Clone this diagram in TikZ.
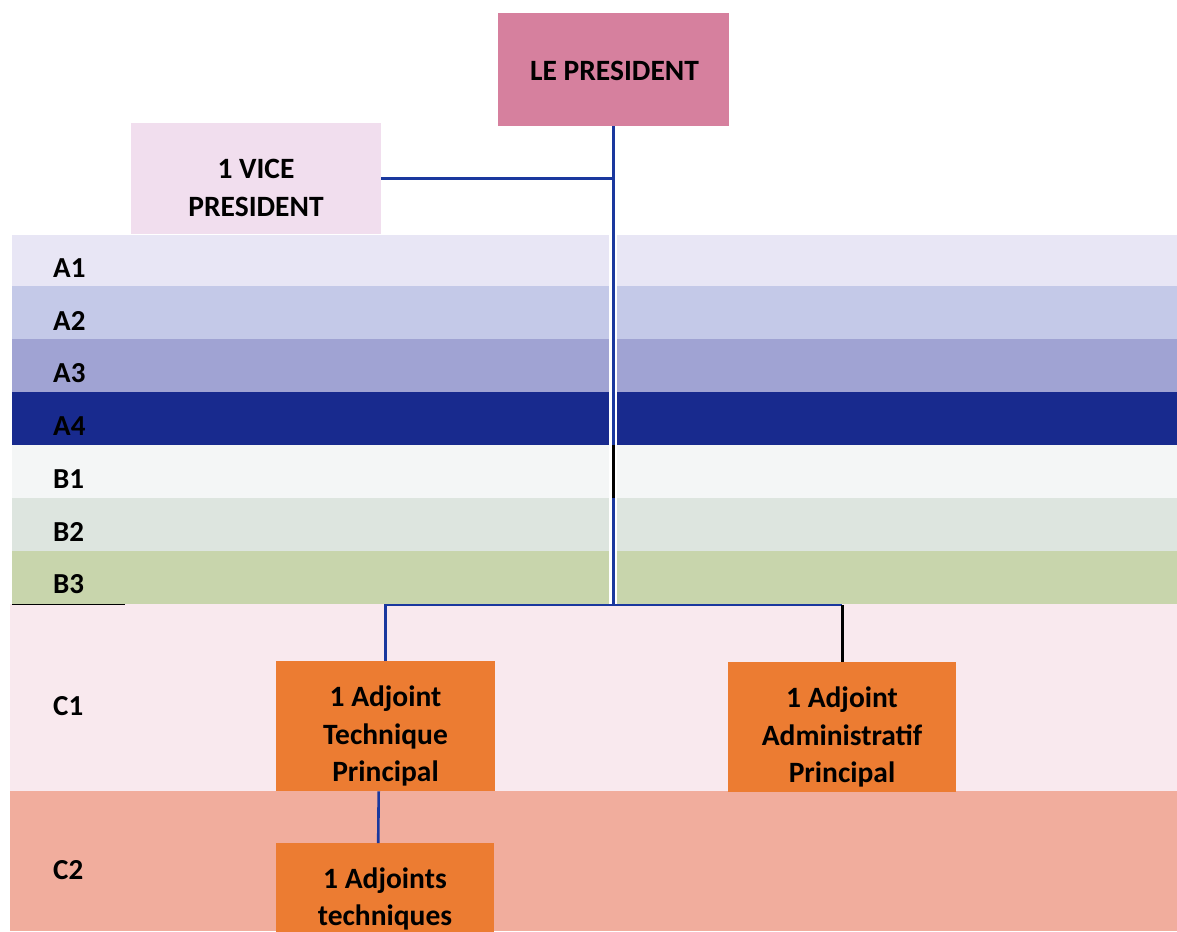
\documentclass[tikz,border=0pt]{standalone}
\usepackage{fontspec}
\setmainfont{Carlito}
\definecolor{presc}{RGB}{214,128,158}
\definecolor{vicec}{RGB}{241,222,238}
\definecolor{aone}{RGB}{232,230,245}
\definecolor{atwo}{RGB}{196,201,232}
\definecolor{athree}{RGB}{160,163,211}
\definecolor{afour}{RGB}{24,42,142}
\definecolor{bone}{RGB}{244,246,246}
\definecolor{btwo}{RGB}{221,229,223}
\definecolor{bthree}{RGB}{200,213,172}
\definecolor{cone}{RGB}{249,233,238}
\definecolor{ctwo}{RGB}{241,173,157}
\definecolor{orangebox}{RGB}{236,124,50}
\definecolor{linkblue}{RGB}{26,56,158}
\tikzset{
  box/.style={draw=none, inner sep=0pt, anchor=north west},
  txt/.style={align=center, inner sep=0pt, text=black, font=\fontsize{29.5}{37.5}\selectfont\bfseries},
  lvl/.style={anchor=west, inner sep=0pt, text=black, font=\fontsize{29}{30}\selectfont\bfseries},
  link/.style={draw=linkblue, line width=2.6pt},
  blink/.style={draw=black, line width=2.6pt}
}
\begin{document}
\begin{tikzpicture}[x=1pt,y=-1pt]
\useasboundingbox (0,0) rectangle (1177,931);
\clip (0,0) rectangle (1177,931);
\fill[white] (0,0) rectangle (1177,931);
% bands
\fill[aone]   (12,235) rectangle (1177,286);
\fill[atwo]   (12,286) rectangle (1177,339);
\fill[athree] (12,339) rectangle (1177,392);
\fill[afour]  (12,392) rectangle (1177,445);
\fill[bone]   (12,445) rectangle (1177,498);
\fill[btwo]   (12,498) rectangle (1177,551);
\fill[bthree] (12,551) rectangle (1177,604);
\fill[white]  (609,235) rectangle (617,604);
\fill[cone]   (10,604) rectangle (1177,791);
\fill[ctwo]   (10,791) rectangle (1177,931);
\draw[black, line width=1pt] (12,604.5) -- (125,604.5);
% level labels
\node[lvl] (lA1) at (53,268) {A1};
\node[lvl] (lA2) at (53,321) {A2};
\node[lvl] (lA3) at (53,373) {A3};
\node[lvl] (lA4) at (53,426) {A4};
\node[lvl] (lB1) at (53,479) {B1};
\node[lvl] (lB2) at (53,532) {B2};
\node[lvl] (lB3) at (53,584) {B3};
\node[lvl] (lC1) at (53,706) {C1};
\node[lvl] (lC2) at (53,870) {C2};
% boxes
\node[box, fill=presc, minimum width=231pt, minimum height=113pt] (P) at (497.5,13) {};
\node[box, fill=vicec, minimum width=250pt, minimum height=111pt] (V) at (131,123) {};
\node[box, fill=orangebox, minimum width=219pt, minimum height=130pt] (T) at (276,661) {};
\node[box, fill=orangebox, minimum width=228pt, minimum height=130pt] (D) at (728,662) {};
\node[box, fill=orangebox, minimum width=218pt, minimum height=120pt] (E) at (276,843) {};
% texts
\node[txt] (Pt) at (614.5,71) {LE PRESIDENT};
\node[txt] (Vt) at (256,188) {1 VICE\\PRESIDENT};
\node[txt] (Tt) at (385.5,736) {1 Adjoint\\Technique\\Principal};
\node[txt] (Dt) at (842,737) {1 Adjoint\\Administratif\\Principal};
\node[txt] (Et) at (385,899) {1 Adjoints\\techniques};
% connectors
\coordinate (j1) at (P.south |- 0,605);
\coordinate (kb1) at (P.south |- 0,445);
\coordinate (kb2) at (P.south |- 0,498);
\path[link] (P.south) -- (j1);
\path[link] (V.east) -- (V.east -| P.south);
\path[blink] (kb1) -- (kb2);
\path[link] (T.north) |- (j1);
\path[link] (j1) -- (j1 -| D.north);
\path[blink] (j1 -| D.north) -- (D.north);
\path[link] ([xshift=-7pt]T.south) -- ([xshift=-7pt]E.north);
\end{tikzpicture}
\end{document}
